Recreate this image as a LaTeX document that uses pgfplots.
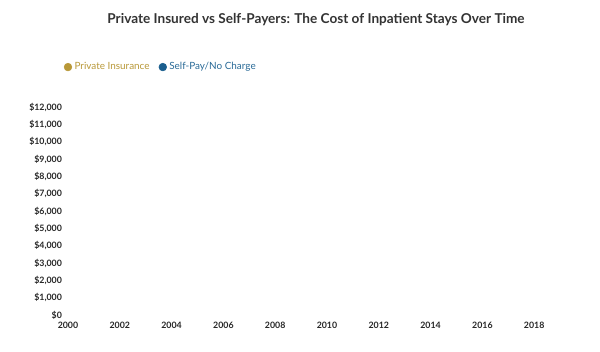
\documentclass[border=0pt]{standalone}
\usepackage{pgfplots}
\pgfplotsset{compat=1.18}
\usepackage{fontspec}
\setmainfont{Lato}
\definecolor{gold}{RGB}{184,152,56}
\definecolor{navy}{RGB}{26,94,142}
\definecolor{navytxt}{RGB}{40,105,150}
\definecolor{ttl}{RGB}{51,51,51}
\begin{document}
\begin{tikzpicture}
\useasboundingbox (0,0) rectangle (450pt,263.25pt);
\node[font=\fontsize{10.2}{12}\selectfont\bfseries, text=ttl] at (237pt,248.3pt) {Private Insured vs Self-Payers: The Cost of Inpatient Stays Over Time};
\begin{axis}[
  at={(51pt,27pt)}, anchor=south west,
  scale only axis, width=388.5pt, height=156pt,
  xmin=2000, xmax=2020, ymin=0, ymax=12000,
  xtick={2000,2002,...,2018}, ytick={0,1000,...,12000},
  axis line style={draw=none}, tick style={draw=none},
  /pgf/number format/assume math mode=true,
  xticklabel={\pgfmathprintnumber[1000 sep={}]{\tick}},
  yticklabel={\$\pgfmathprintnumber[1000 sep={,}]{\tick}},
  ticklabel style={font=\fontsize{6.6}{8}\selectfont\bfseries, text=black!85},
  xticklabel style={yshift=-1.5pt},
  yticklabel style={xshift=-1pt},
  scaled y ticks=false,
  legend style={at={(-0.008,1.192)}, anchor=west, draw=none, fill=none,
    font=\fontsize{7.45}{9}\selectfont, inner sep=0pt,
    /tikz/every even column/.append style={column sep=5pt}},
  legend columns=-1,
  legend cell align=left,
]
\addlegendimage{only marks, mark=*, mark size=2.9pt, color=gold}
\addlegendentry{\textcolor{gold}{Private Insurance}}
\addlegendimage{only marks, mark=*, mark size=2.9pt, color=navy}
\addlegendentry{\textcolor{navytxt}{Self-Pay/No Charge}}
\end{axis}
\end{tikzpicture}
\end{document}
